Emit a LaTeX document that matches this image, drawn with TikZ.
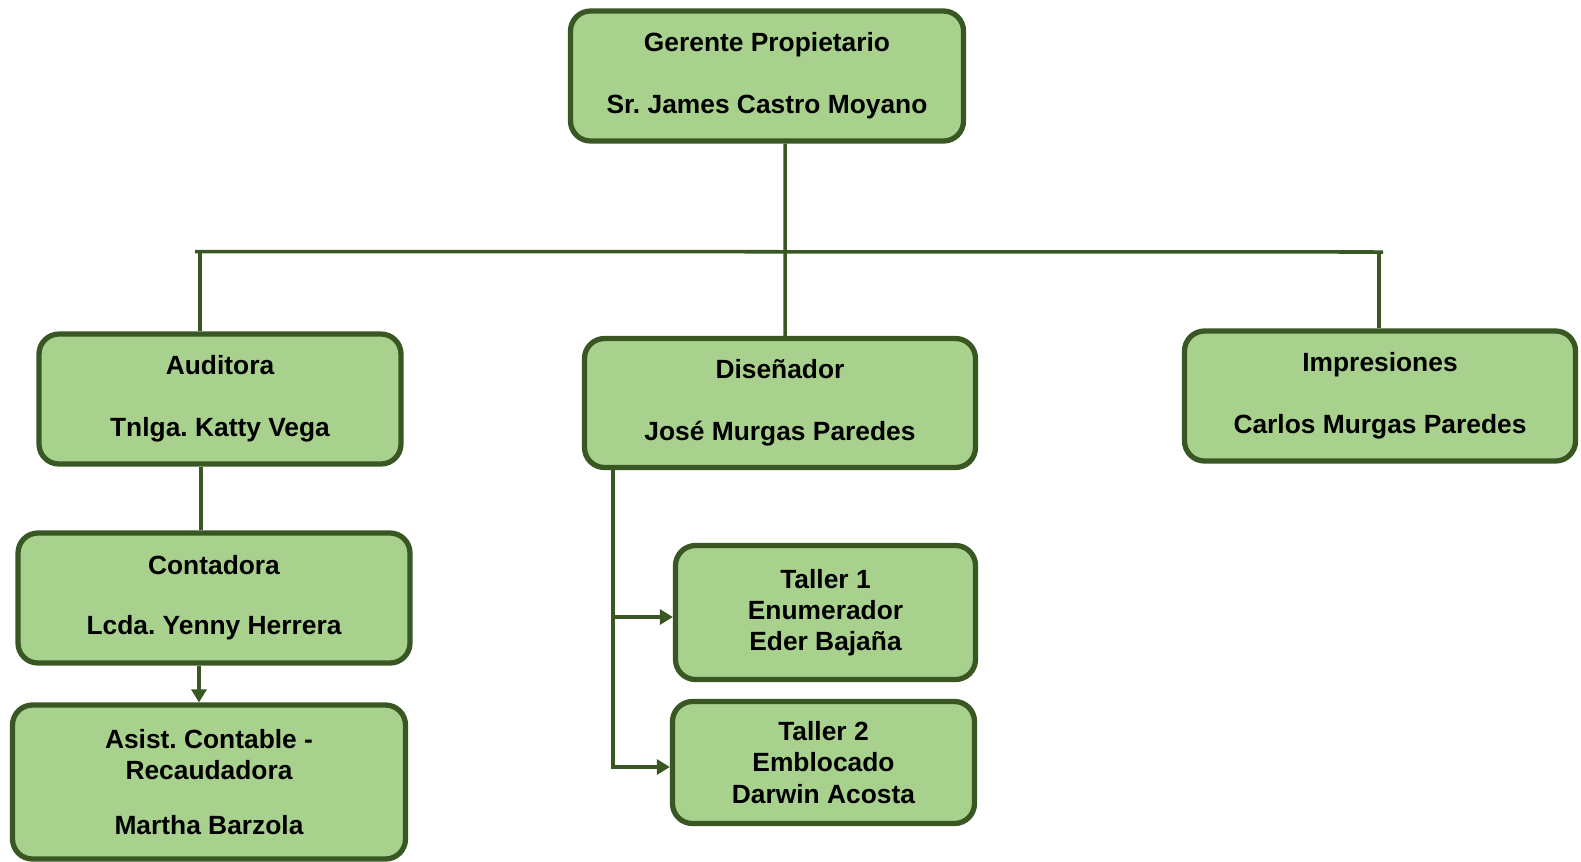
\documentclass[tikz,border=0pt]{standalone}
\usepackage{fontspec}
\setmainfont{Liberation Sans}
\usetikzlibrary{positioning, arrows.meta}
\definecolor{hoja}{HTML}{A9D18E}
\definecolor{rama}{HTML}{385723}
\tikzstyle{cargo} = [rectangle, rounded corners=0.4cm, text centered, align=center, draw=rama, fill=hoja, line width=3pt, font=\fontsize{15}{17.7}\selectfont\bfseries\frenchspacing, inner sep=0pt]
\tikzstyle{linea} = [draw=rama, line width=2pt]
\tikzstyle{arrow} = [linea, -{Triangle[width=0.3cm,length=0.26cm]}]

\begin{document}
\begin{tikzpicture}
    \useasboundingbox (0,0) rectangle (31.62,-17.22);
    \node (ger) [cargo, minimum width=7.86cm, minimum height=2.60cm] at (15.34,-1.52) {Gerente Propietario\\[17.5pt]Sr. James Castro Moyano};
    \node (aud) [cargo, minimum width=7.24cm, minimum height=2.60cm] at (4.40,-7.98) {Auditora\\[17.5pt]Tnlga. Katty Vega};
    \node (dis) [cargo, minimum width=7.82cm, minimum height=2.58cm] at (15.60,-8.06) {Diseñador\\[17.5pt]José Murgas Paredes};
    \node (imp) [cargo, minimum width=7.82cm, minimum height=2.60cm] at (27.60,-7.92) {Impresiones\\[17.5pt]Carlos Murgas Paredes};
    \node (cont) [cargo, minimum width=7.84cm, minimum height=2.60cm] at (4.28,-11.96) {Contadora\\[16.5pt]Lcda. Yenny Herrera};
    \node (asis) [cargo, minimum width=7.86cm, minimum height=3.08cm] at (4.18,-15.64) {Asist. Contable -\\Recaudadora\\[14pt]Martha Barzola};
    \node (tal1) [cargo, minimum width=6.00cm, minimum height=2.68cm] at (16.51,-12.25) {Taller 1\\Enumerador\\Eder Bajaña};
    \node (tal2) [cargo, minimum width=6.04cm, minimum height=2.44cm] at (16.47,-15.25) {Taller 2\\Emblocado\\Darwin Acosta};

    \coordinate (busL) at (3.90,-5.03);
    \coordinate (busR) at (27.66,-5.04);
    \coordinate (bajada) at ([xshift=0.62cm]dis.south west);

    \draw [linea] ([xshift=0.36cm]ger.south) -- ([xshift=0.10cm]dis.north);
    \draw [linea] (busL) -- (busR);
    \draw [linea] ([xshift=-0.40cm]aud.north) -- ([xshift=-0.40cm]aud.north |- busL);
    \draw [linea] ([xshift=-0.02cm]imp.north) -- ([xshift=-0.02cm]imp.north |- busR);
    \draw [linea] ([xshift=-0.38cm]aud.south) -- ([xshift=-0.38cm]aud.south |- cont.north);
    \draw [arrow] ([xshift=-0.30cm]cont.south) -- ([xshift=-0.30cm]cont.south |- asis.north);
    \draw [arrow] (bajada) |- ([yshift=-0.09cm]tal2.west);
    \draw [arrow] ([yshift=-0.09cm]tal1.west -| bajada) -- ([yshift=-0.09cm]tal1.west);
\end{tikzpicture}
\end{document}
